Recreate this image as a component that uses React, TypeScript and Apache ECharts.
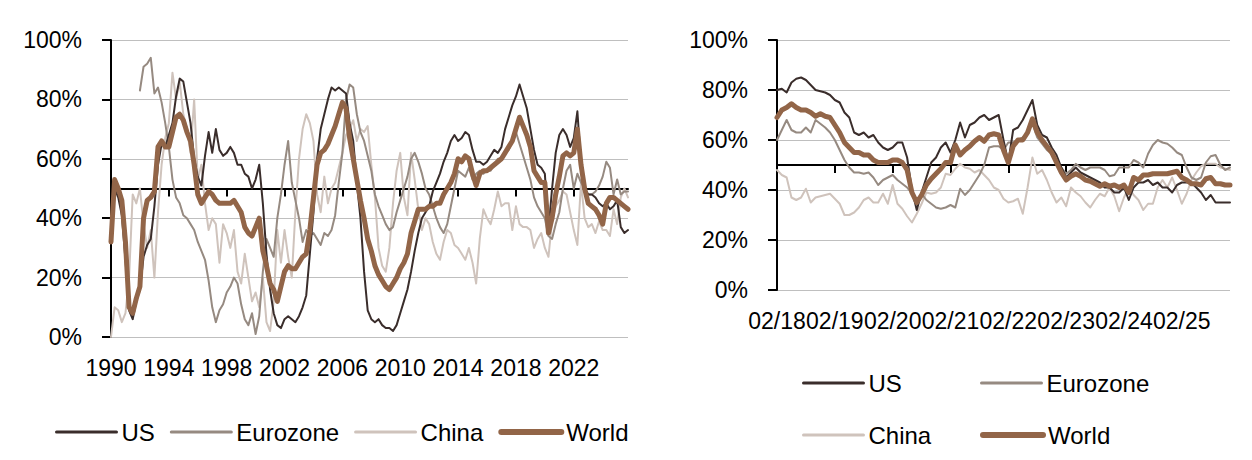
import React, { useEffect, useRef } from "react";
import * as echarts from "echarts";

// ---------- Left chart: quarterly, 1990 Q1 .. 2025 Q4 (share of countries, %) ----------
const leftStartYear = 1990;
const usLong = [
  35, 50, 47, 41, 26, 9, 6, 12, 16, 27, 31, 33, 44, 58, 65, 64,
  68, 72, 81, 87, 86, 79, 72, 60, 54, 51, 61, 69, 62, 70, 63, 61,
  62, 64, 62, 58, 58, 55, 54, 50, 53, 58, 45, 28, 16, 8, 4, 3,
  6, 7, 6, 5, 7, 10, 14, 28, 42, 60, 70, 75, 80, 84, 83, 84,
  83, 82, 72, 66, 52, 40, 22, 9, 6, 5, 6, 4, 3, 3, 2, 4,
  8, 12, 16, 22, 29, 35, 40, 42, 44, 49, 52, 55, 59, 62, 66, 68,
  66, 67, 69, 68, 63, 59, 59, 58, 59, 61, 63, 62, 64, 70, 74, 78,
  81, 85, 81, 77, 70, 63, 58, 57, 55, 36, 50, 62, 68, 70, 68, 64,
  67, 76, 58, 50, 48, 48, 47, 45, 44, 45, 43, 44, 46, 37, 35, 36,
];
const eurozoneLong = [
  null, null, null, null, null, null, null, null, 83, 91, 92, 94, 82, 84, 79, 72,
  64, 53, 47, 45, 41, 40, 38, 36, 32, 29, 26, 19, 10, 5, 9, 11,
  15, 17, 20, 18, 11, 6, 4, 8, 1, 7, 22, 33, 30, 27, 40, 48,
  58, 66, 52, 46, 40, 32, 36, 34, 35, 33, 31, 35, 34, 36, 41, 52,
  62, 80, 85, 84, 75, 69, 66, 61, 56, 48, 44, 41, 38, 36, 37, 42,
  46, 50, 54, 60, 62, 59, 55, 50, 48, 44, 40, 37, 35, 38, 44, 50,
  56, 55, 54, 57, 53, 55, 56, 55, 56, 56, 58, 60, 60, 62, 63, 66,
  69, 65, 61, 57, 53, 47, 44, 42, 40, 34, 33, 38, 42, 50, 56, 58,
  50, 55, 52, 50, 48, 48, 49, 51, 54, 59, 57, 48, 53, 48, 49, 49,
];
const chinaLong = [
  0, 10, 9, 5, 8, 20, 48, 45, 50, 38, 30, 36, 20, 42, 58, 67,
  72, 89, 80, 86, 75, 70, 62, 80, 53, 58, 45, 36, 40, 38, 25, 38,
  35, 30, 36, 22, 18, 28, 20, 12, 15, 10, 20, 5, 2, 12, 36, 25,
  36, 27, 20, 42, 60, 70, 75, 72, 66, 48, 42, 54, 45, 50, 52, 57,
  62, 68, 70, 73, 66, 70, 69, 71, 58, 47, 30, 24, 22, 30, 45, 56,
  62, 47, 41, 62, 53, 43, 36, 40, 38, 32, 28, 26, 32, 36, 35, 31,
  30, 28, 26, 30, 25, 18, 33, 43, 40, 38, 43, 49, 44, 45, 45, 36,
  44, 38, 37, 37, 36, 30, 33, 35, 30, 27, 39, 44, 46, 49, 48, 42,
  36, 31, 52, 40, 37, 38, 35, 39, 36, 36, 34, 43, 38, 47, 50, 47,
];
const worldLong = [
  32, 53, 50, 46, 32, 10, 8, 13, 17, 40, 46, 47, 49, 64, 66, 64,
  64, 69, 74, 75, 73, 69, 66, 58, 48, 45, 47, 49, 48, 46, 45, 45,
  45, 45, 46, 44, 42, 37, 35, 34, 37, 40, 29, 24, 18, 16, 12, 17,
  22, 24, 23, 23, 25, 27, 28, 36, 47, 58, 62, 63, 65, 68, 71, 75,
  79, 77, 67, 60, 53, 46, 40, 33, 29, 24, 21, 19, 17, 16, 18, 20,
  23, 25, 28, 35, 39, 43, 43, 43, 44, 44, 45, 45, 48, 50, 52, 55,
  60, 59, 61, 60, 55, 51, 55, 56, 56, 57, 58, 59, 60, 62, 64, 66,
  70, 74, 71, 68, 64, 56, 54, 52, 52, 35, 40, 48, 54, 61, 62, 61,
  62, 70, 58, 50, 45, 44, 43, 41, 38, 45, 47, 47, 46, 45, 44, 43,
];

// ---------- Right chart: monthly, 02/2018 .. 12/2025 ----------
const rightStartYear = 2018;
const rightStartMonth = 2;
const usShort = [
  80, 80.5, 79, 83, 84.5, 85, 84, 82, 80, 79.5, 79, 78, 76, 75, 71, 69,
  63, 62, 63, 61, 62, 59, 57, 56, 57, 59, 59, 53, 40, 32, 39, 45,
  51, 53, 57, 59, 55, 60, 67, 61, 66, 67, 69, 70, 68, 69, 70, 60,
  51, 64, 65, 68, 72, 76, 66, 62, 61, 57, 54, 49, 45, 47, 49, 47,
  46, 45, 44, 43, 41, 41, 39, 39, 41, 36, 41, 43, 43, 44, 42, 43,
  41, 41, 39, 42, 43, 43, 43, 41, 39, 36, 38, 35, 35, 35, 35,
];
const eurozoneShort = [
  60, 64, 68, 64, 63, 63, 65, 63, 68, 66.5, 65, 63, 60, 56, 52, 49,
  47, 47, 46.5, 47, 45, 42, 44, 45, 46, 44, 42.5, 41, 38.5, 36, 38.5, 36,
  34.5, 33, 32.5, 33, 34, 33, 40.5, 38, 40, 43, 46, 50, 57, 57.5, 57.5, 56,
  59, 59, 60, 61, 63, 66.5, 61, 58.5, 56, 54.5, 52, 49, 46.5, 48, 50.5, 49,
  48, 49, 49, 49, 48, 45.5, 46, 49, 49, 49, 52, 51, 49, 54.5, 58, 60,
  59, 58.5, 57, 55, 54, 49, 45, 44, 45, 51, 53.5, 54, 50, 48, 49,
];
const chinaShort = [
  48, 46, 45, 37, 36, 37, 40.5, 35, 37, 37.5, 38, 38.5, 36.5, 34.5, 30, 30,
  31, 33, 36, 37, 35, 35, 38.5, 34.5, 42, 34.5, 32.5, 29.5, 27, 30.5, 34.5, 39,
  38.5, 39, 41, 46.5, 46, 48.5, 50.5, 49, 48.5, 47, 48, 46, 44, 41, 40, 36.5,
  35, 35.5, 36.5, 30.5, 41, 53, 46.5, 48, 44, 39, 35, 37, 33.5, 41, 39, 37.5,
  35, 33, 36, 38.5, 37.5, 41, 37.5, 31.5, 37, 41, 38, 36, 32, 34.5, 34.5, 41,
  44, 41, 45, 40, 34.5, 38.5, 44, 47, 49.5, 50.5, 50.5, 50.5, 49, 48.5, 48,
];
const worldShort = [
  69, 72, 73, 74.5, 73, 72, 72, 71, 69.5, 70.5, 69.5, 69, 66, 63, 59, 57,
  55, 55, 54, 54, 52, 51, 51, 51, 52, 52, 51, 48, 39, 35, 38, 42,
  44.5, 46.5, 48.5, 51, 51, 58, 54, 56, 57.5, 59.5, 61, 59.5, 62, 62.5, 62, 56,
  51, 57.5, 60, 60, 63, 68.5, 63, 60, 57.5, 55, 51, 47, 44, 45.5, 46.5, 45.5,
  44, 43.5, 42.5, 41.5, 42.5, 41.5, 42, 41, 42, 39, 45, 44, 46, 46, 46.5, 46.5,
  46.5, 46.5, 47, 47.5, 45, 44, 42.5, 42.5, 42, 44.5, 45, 42.5, 42.5, 42, 42,
];

const seriesNames = ["US", "Eurozone", "China", "World"];
const yTicks = { min: 0, max: 100, interval: 20 };

const COLORS: Record<string, string> = {
  US: "#3a2d2b",
  Eurozone: "#968a81",
  China: "#cfc3bc",
  World: "#926548",
};
const WIDTHS: Record<string, number> = { US: 2, Eurozone: 2, China: 2, World: 5 };
const LEGEND_WIDTHS: Record<string, number> = { US: 3, Eurozone: 3, China: 3, World: 6 };

const FONT = "'Liberation Sans', Arial, sans-serif";

const leftCats = usLong.map((_, k) => `${leftStartYear + Math.floor(k / 4)}Q${(k % 4) + 1}`);
const rightCats = usShort.map((_, i) => {
  const m0 = rightStartMonth - 1 + i;
  const yy = rightStartYear + Math.floor(m0 / 12);
  const mm = (m0 % 12) + 1;
  return `${String(mm).padStart(2, "0")}/${String(yy % 100).padStart(2, "0")}`;
});

export default function App() {
  const ref = useRef<HTMLDivElement | null>(null);

  useEffect(() => {
    if (!ref.current) return;
    const chart = echarts.init(ref.current, undefined, { renderer: "svg" });

    const grids = [
      { left: 111, top: 40, width: 517, height: 297 },
      { left: 777, top: 40, width: 453, height: 250 },
    ];

    const lineAxis = (gridIndex: number, data: string[], offset: number, interval: number) => ({
      type: "category",
      gridIndex,
      data,
      boundaryGap: false,
      position: "bottom",
      offset,
      axisLine: { show: true, lineStyle: { color: "#000", width: 2 } },
      axisTick: { show: true, interval, length: 8, lineStyle: { color: "#000", width: 2 } },
      axisLabel: { show: false },
      splitLine: { show: false },
    });
    const labelAxis = (gridIndex: number, data: string[], interval: number, fmt: (v: string) => string) => ({
      type: "category",
      gridIndex,
      data,
      boundaryGap: false,
      position: "bottom",
      axisLine: { show: false },
      axisTick: { show: false },
      axisLabel: {
        show: true,
        interval,
        margin: 19,
        color: "#000",
        fontSize: 23,
        fontFamily: FONT,
        formatter: fmt,
      },
      splitLine: { show: false },
    });
    const yAxis = (gridIndex: number) => ({
      type: "value",
      gridIndex,
      min: yTicks.min,
      max: yTicks.max,
      interval: yTicks.interval,
      axisLine: { show: true, lineStyle: { color: "#000", width: 2 } },
      axisTick: { show: true, length: 9, lineStyle: { color: "#000", width: 2 } },
      axisLabel: { color: "#000", fontSize: 23, fontFamily: FONT, margin: 29, formatter: "{value}%" },
      splitLine: { show: true, lineStyle: { color: "#bfbfbf", width: 1 } },
    });

    const leftData: Record<string, (number | null)[]> = {
      US: usLong, Eurozone: eurozoneLong, China: chinaLong, World: worldLong,
    };
    const rightData: Record<string, (number | null)[]> = {
      US: usShort, Eurozone: eurozoneShort, China: chinaShort, World: worldShort,
    };
    const drawOrder = ["China", "Eurozone", "US", "World"];
    const mk = (name: string, data: (number | null)[], xi: number, yi: number) => ({
      type: "line",
      name,
      xAxisIndex: xi,
      yAxisIndex: yi,
      data,
      symbol: "none",
      showSymbol: false,
      connectNulls: false,
      lineStyle: { color: COLORS[name], width: WIDTHS[name], cap: "round", join: "round" },
      itemStyle: { color: COLORS[name] },
      emphasis: { disabled: true },
    });

    const legendItem = (n: string) => ({
      name: n,
      itemStyle: { opacity: 0 },
      lineStyle: { color: COLORS[n], width: LEGEND_WIDTHS[n], cap: "round" },
    });
    const legendBase = {
      orient: "horizontal",
      itemWidth: 60,
      itemHeight: 14,
      itemGap: 15,
      itemStyle: { opacity: 0 },
      textStyle: { color: "#000", fontSize: 24, fontFamily: FONT },
      selectedMode: false,
    };

    chart.setOption({
      animation: false,
      backgroundColor: "#fff",
      grid: grids,
      xAxis: [
        lineAxis(0, leftCats, -148.5, 15),
        labelAxis(0, leftCats, 15, (v: string) => v.slice(0, 4)),
        lineAxis(1, rightCats, -125, 11),
        labelAxis(1, rightCats, 11, (v: string) => v),
      ],
      yAxis: [yAxis(0), yAxis(1)],
      legend: [
        { ...legendBase, data: seriesNames.map(legendItem), left: 50, top: 415 },
        { ...legendBase, data: [legendItem("US")], left: 797, top: 366 },
        { ...legendBase, data: [legendItem("Eurozone")], left: 975, top: 366 },
        { ...legendBase, data: [legendItem("China")], left: 797, top: 418 },
        { ...legendBase, data: [legendItem("World")], left: 975, top: 418 },
      ],
      series: [
        ...drawOrder.map((n) => mk(n, leftData[n], 0, 0)),
        ...drawOrder.map((n) => mk(n, rightData[n], 2, 1)),
      ],
    });

    return () => chart.dispose();
  }, []);

  return (
    <div
      ref={ref}
      style={{ position: "fixed", left: 0, top: 0, width: 1252, height: 460, background: "#fff" }}
    />
  );
}
